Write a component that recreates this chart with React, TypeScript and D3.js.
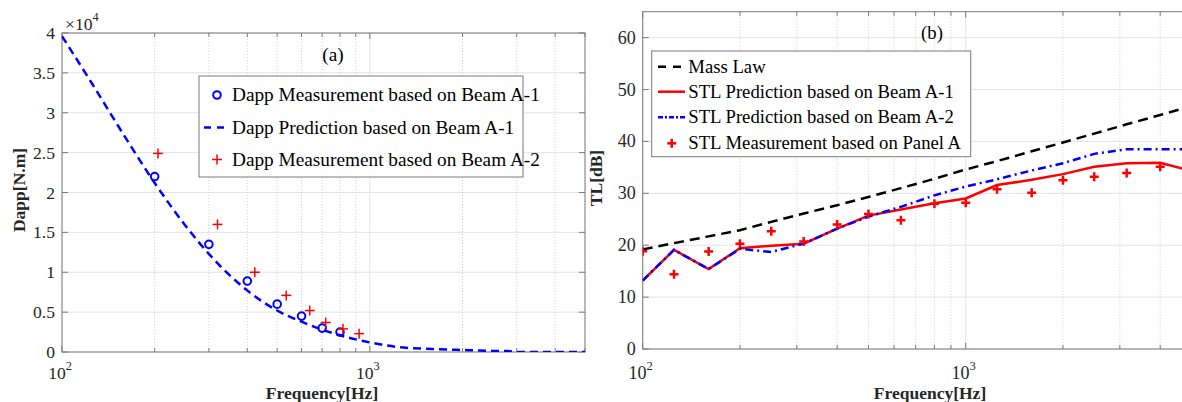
import React from 'react';
import * as d3 from 'd3';

// ---- (a) Dapp vs frequency ----
const dappFreqA1 = [200, 300, 400, 500, 600, 700, 800];
const dappMeasA1 = [22000, 13500, 8900, 6000, 4500, 3000, 2500];
const dappFreqA2 = [205, 320, 423, 535, 638, 719, 818, 923];
const dappMeasA2 = [24900, 16000, 10000, 7100, 5200, 3700, 2900, 2300];
const dappPredFreq = [100, 125, 160, 200, 250, 300, 400, 500, 600, 700, 800, 1000, 1250, 1600, 2000, 2500, 2800, 3000, 4000, 5000];
const dappPredA1 = [39600, 33700, 27000, 21200, 16000, 12300, 7700, 5200, 3800, 2800, 2100, 1200, 600, 380, 250, 140, 120, 0, 0, 0];
const dappTicks = [0, 5000, 10000, 15000, 20000, 25000, 30000, 35000, 40000];
const dappTickLabels = ['0', '0.5', '1', '1.5', '2', '2.5', '3', '3.5', '4'];
const dappLegend = [
  'Dapp Measurement based on Beam A-1',
  'Dapp Prediction based on Beam A-1',
  'Dapp Measurement based on Beam A-2',
];

// ---- (b) STL vs frequency (third octave bands) ----
const bands = [100, 125, 160, 200, 250, 315, 400, 500, 630, 800, 1000, 1250, 1600, 2000, 2500, 3150, 4000, 5000];
const massLaw = [19.2, 20.4, 21.7, 22.9, 24.5, 26.1, 27.7, 29.3, 31.0, 32.8, 34.6, 36.2, 38.1, 39.8, 41.5, 43.3, 45.1, 46.8];
const stlPredA1 = [13.2, 19.1, 15.4, 19.4, 19.9, 20.3, 23.2, 25.7, 26.9, 28.1, 29.0, 31.6, 32.6, 33.7, 35.1, 35.8, 35.9, 34.3];
const stlPredA2 = [13.2, 19.1, 15.4, 19.3, 18.7, 20.3, 23.2, 25.5, 27.4, 29.6, 31.3, 32.7, 34.4, 35.8, 37.6, 38.5, 38.5, 38.5];
const stlMeasFreq = [100, 125, 160, 200, 250, 315, 400, 500, 630, 800, 1000, 1250, 1600, 2000, 2500, 3150, 4000];
const stlMeasPanelA = [18.85, 14.4, 18.8, 20.3, 22.7, 20.7, 24.0, 26.0, 24.8, 28.0, 28.2, 30.8, 30.1, 32.5, 33.2, 33.9, 35.1];
const tlTicks = [0, 10, 20, 30, 40, 50, 60];
const stlLegend = [
  'Mass Law',
  'STL Prediction based on Beam A-1',
  'STL Prediction based on Beam A-2',
  'STL Measurement based on Panel A',
];

const FONT = '"Liberation Serif", "Times New Roman", serif';
const TXT = '#262626';
const AXIS = '#7a7a7a';
const GRID = '#e3e3e3';
const MINOR = '#cfcfcf';

type Box = { x0: number; x1: number; y0: number; y1: number };

function Frame({ box, x, y, yTicks, yLabels, fs, clipRight }: any) {
  const b: Box = box;
  const xt: number[] = x.ticks();
  const major = xt.filter((t: number) => Math.abs(Math.log10(t) - Math.round(Math.log10(t))) < 1e-9);
  const minor = xt.filter((t: number) => !major.includes(t));
  return (
    <g>
      {yTicks.map((t: number) => (
        <line key={'hg' + t} x1={b.x0} x2={b.x1} y1={y(t)} y2={y(t)} stroke={GRID} />
      ))}
      {minor.map((t: number) => (
        <line key={'vm' + t} x1={x(t)} x2={x(t)} y1={b.y0} y2={b.y1} stroke={MINOR} strokeDasharray="1,2" />
      ))}
      {major.map((t: number) => (
        <line key={'vg' + t} x1={x(t)} x2={x(t)} y1={b.y0} y2={b.y1} stroke={GRID} />
      ))}
      {/* ticks */}
      {yTicks.map((t: number) => (
        <g key={'yt' + t}>
          <line x1={b.x0} x2={b.x0 + 6} y1={y(t)} y2={y(t)} stroke={AXIS} />
          {!clipRight && <line x1={b.x1} x2={b.x1 - 6} y1={y(t)} y2={y(t)} stroke={AXIS} />}
        </g>
      ))}
      {xt.map((t: number) => {
        const len = major.includes(t) ? 6 : 4;
        return (
          <g key={'xt' + t}>
            <line x1={x(t)} x2={x(t)} y1={b.y1} y2={b.y1 - len} stroke={AXIS} />
            <line x1={x(t)} x2={x(t)} y1={b.y0} y2={b.y0 + len} stroke={AXIS} />
          </g>
        );
      })}
      <rect x={b.x0} y={b.y0} width={b.x1 - b.x0} height={b.y1 - b.y0} fill="none" stroke={AXIS} />
      {/* labels */}
      {yTicks.map((t: number, i: number) => (
        <text key={'yl' + t} x={b.x0 - 7} y={y(t) + 6} textAnchor="end" fontSize={fs} fill={TXT} fontFamily={FONT}>
          {yLabels[i]}
        </text>
      ))}
      {major.map((t: number) => (
        <text key={'xl' + t} x={x(t) - 2} y={379} textAnchor="middle" fontSize={fs} fill={TXT} fontFamily={FONT}>
          <tspan>10</tspan>
          <tspan dy={-9} fontSize={fs * 0.7}>{Math.round(Math.log10(t))}</tspan>
        </text>
      ))}
    </g>
  );
}

function Cross({ cx, cy, r, w }: any) {
  return (
    <g stroke="#ff0000" strokeWidth={w}>
      <line x1={cx - r} x2={cx + r} y1={cy} y2={cy} />
      <line x1={cx} x2={cx} y1={cy - r} y2={cy + r} />
    </g>
  );
}

export default function App() {
  // panel (a)
  const A: Box = { x0: 62, x1: 585, y0: 33, y1: 352 };
  const xA = d3.scaleLog().domain([100, 5000]).range([A.x0, A.x1]);
  const yA = d3.scaleLinear().domain([0, 40000]).range([A.y1, A.y0]);
  const lineA = d3
    .line<number>()
    .x((_, i) => xA(dappPredFreq[i]))
    .y((d) => yA(d))
    .curve(d3.curveMonotoneX);

  // panel (b)
  const B: Box = { x0: 642.7, x1: 1191.5, y0: 11.7, y1: 349 };
  const xB = d3.scaleLog().domain([100, 5000]).range([B.x0, B.x1]);
  const yB = d3.scaleLinear().domain([0, 65]).range([B.y1, B.y0]);
  const lineB = d3
    .line<number>()
    .x((_, i) => xB(bands[i]))
    .y((d) => yB(d));

  const fsA = 17.6;
  const fsB = 18;
  const legA = 19.3;
  const legB = 18.7;

  return (
    <svg width={1182} height={402} style={{ position: 'absolute', left: 0, top: 0, background: '#fff' }}>
      <defs>
        <clipPath id="clipA">
          <rect x={A.x0} y={A.y0} width={A.x1 - A.x0} height={A.y1 - A.y0} />
        </clipPath>
        <clipPath id="clipB">
          <rect x={B.x0} y={B.y0} width={B.x1 - B.x0} height={B.y1 - B.y0} />
        </clipPath>
      </defs>
      <rect x={0} y={0} width={1182} height={402} fill="#fff" />

      {/* ===== (a) ===== */}
      <Frame box={A} x={xA} y={yA} yTicks={dappTicks} yLabels={dappTickLabels} fs={fsA} />
      <text x={65} y={30} fontSize={fsA} fill={TXT} fontFamily={FONT}>
        <tspan>×10</tspan>
        <tspan dy={-9} fontSize={fsA * 0.7}>4</tspan>
      </text>
      <g clipPath="url(#clipA)">
        <path d={lineA(dappPredA1) || ''} fill="none" stroke="#0000ff" strokeWidth={2.5} strokeDasharray="8,5" />
        {dappFreqA1.map((f, i) => (
          <circle key={'c' + i} cx={xA(f)} cy={yA(dappMeasA1[i])} r={3.8} fill="none" stroke="#0000ff" strokeWidth={2} />
        ))}
        {dappFreqA2.map((f, i) => (
          <Cross key={'p' + i} cx={xA(f)} cy={yA(dappMeasA2[i])} r={5} w={1.5} />
        ))}
      </g>
      <text x={333} y={61} textAnchor="middle" fontSize={legA} fill="#000" fontFamily={FONT}>(a)</text>
      <g>
        <rect x={199} y={76} width={324} height={101} fill="#fff" stroke={AXIS} />
        <circle cx={217} cy={95} r={3.8} fill="none" stroke="#0000ff" strokeWidth={2} />
        <line x1={204} x2={224} y1={127.5} y2={127.5} stroke="#0000ff" strokeWidth={2.5} strokeDasharray="7,6" />
        <Cross cx={217} cy={159.5} r={5} w={1.5} />
        {dappLegend.map((s, i) => (
          <text key={s} x={232} y={[95, 127.5, 159.5][i] + 6} fontSize={legA} fill="#000" fontFamily={FONT}>{s}</text>
        ))}
      </g>
      <text x={322} y={399} textAnchor="middle" fontSize={17.5} fontWeight="bold" fill={TXT} fontFamily={FONT}>Frequency[Hz]</text>
      <text transform="translate(25,190) rotate(-90)" textAnchor="middle" fontSize={17.5} fontWeight="bold" fill={TXT} fontFamily={FONT}>Dapp[N.m]</text>

      {/* ===== (b) ===== */}
      <Frame box={B} x={xB} y={yB} yTicks={tlTicks} yLabels={tlTicks.map(String)} fs={fsB} clipRight />
      <g clipPath="url(#clipB)">
        <path d={lineB(massLaw) || ''} fill="none" stroke="#000" strokeWidth={2.5} strokeDasharray="10,6" />
        <path d={lineB(stlPredA1) || ''} fill="none" stroke="#ff0000" strokeWidth={2.5} />
        <path d={lineB(stlPredA2) || ''} fill="none" stroke="#0000ff" strokeWidth={2.5} strokeDasharray="8,4,2,4" />
        {stlMeasFreq.map((f, i) => (
          <Cross key={'m' + i} cx={xB(f)} cy={yB(stlMeasPanelA[i])} r={4.5} w={2.5} />
        ))}
      </g>
      <text x={932} y={39} textAnchor="middle" fontSize={legB} fill="#000" fontFamily={FONT}>(b)</text>
      <g>
        <rect x={651.7} y={51} width={319} height={105.7} fill="#fff" stroke={AXIS} />
        <line x1={658} x2={681} y1={66.7} y2={66.7} stroke="#000" strokeWidth={2.5} strokeDasharray="8,7" />
        <line x1={658} x2={685} y1={91.7} y2={91.7} stroke="#ff0000" strokeWidth={2.5} />
        <line x1={658} x2={685} y1={117.3} y2={117.3} stroke="#0000ff" strokeWidth={2.5} strokeDasharray="5,2,2,2" />
        <Cross cx={671.7} cy={143.3} r={4.5} w={2.5} />
        {stlLegend.map((s, i) => (
          <text key={s} x={688.3} y={[66.7, 91.7, 117.3, 143.3][i] + 6} fontSize={legB} fill="#000" fontFamily={FONT}>{s}</text>
        ))}
      </g>
      <text x={930} y={399} textAnchor="middle" fontSize={17.5} fontWeight="bold" fill={TXT} fontFamily={FONT}>Frequency[Hz]</text>
      <text transform="translate(602,178) rotate(-90)" textAnchor="middle" fontSize={17.5} fontWeight="bold" fill={TXT} fontFamily={FONT}>TL[dB]</text>
    </svg>
  );
}
